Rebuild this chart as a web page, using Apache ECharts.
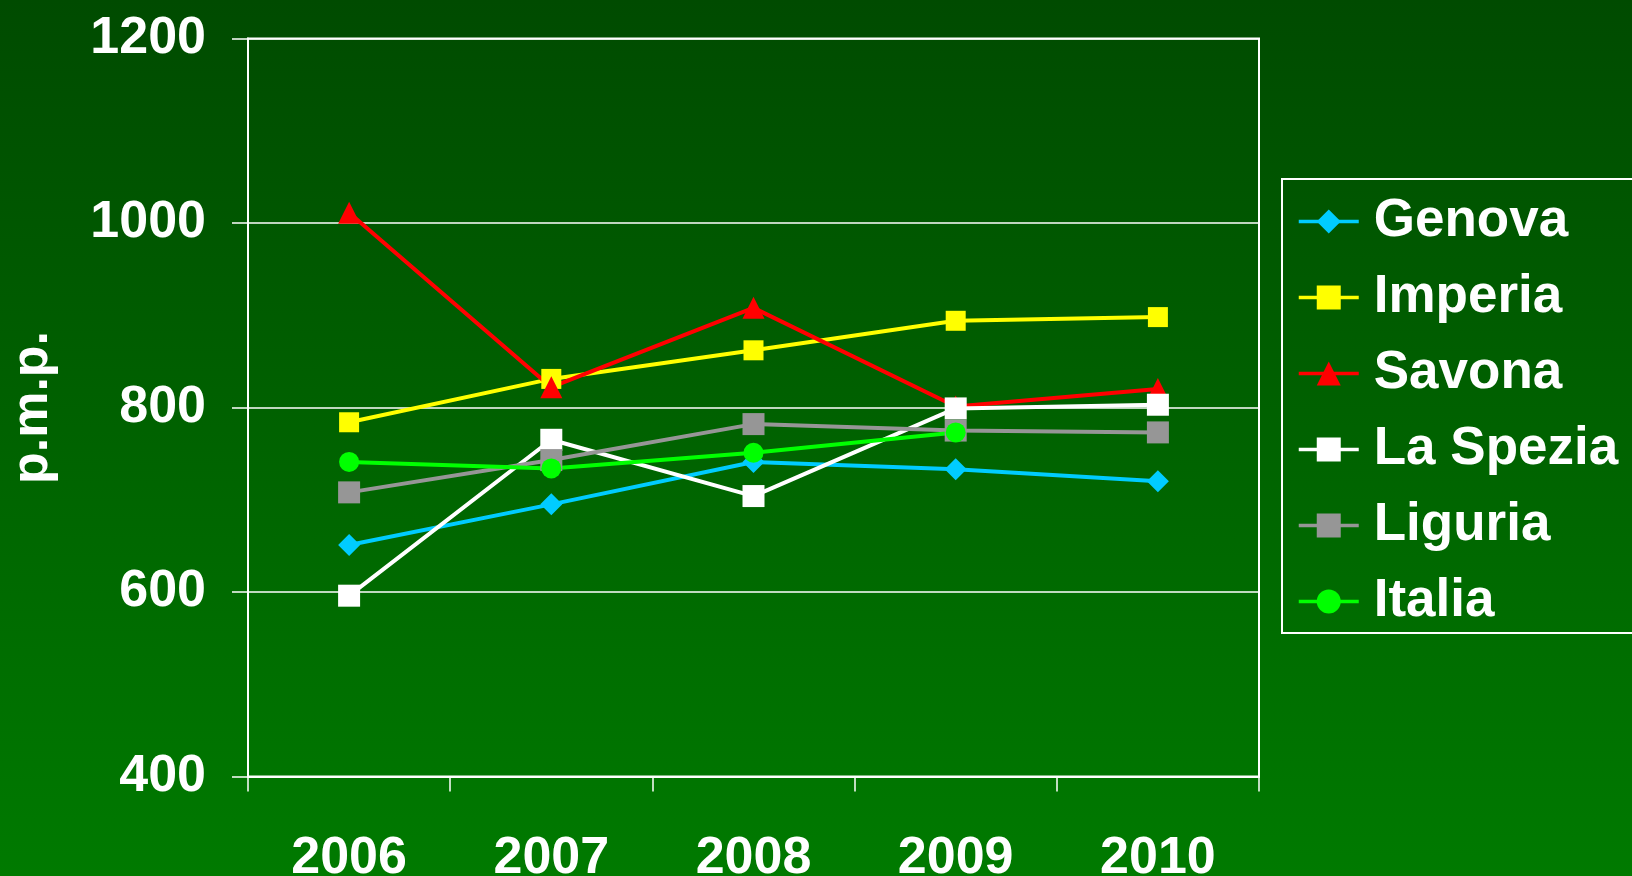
<!DOCTYPE html>
<html>
<head>
<meta charset="utf-8">
<script src="https://cdn.jsdelivr.net/npm/echarts@6/dist/echarts.min.js"></script>
<style>
  html, body { margin: 0; padding: 0; }
  #chart { width: 1632px; height: 876px; }
</style>
</head>
<body>
<div id="chart"></div>
<script>
const YEARS = ['2006', '2007', '2008', '2009', '2010'];
const GENOVA = [651, 695, 741, 733, 720];
const IMPERIA = [784, 831, 862, 894, 898];
const SAVONA = [1011, 822, 908, 801, 820];
const LA_SPEZIA = [596, 765, 704, 799, 803];
const LIGURIA = [708, 743, 782, 775, 773];
const ITALIA = [741, 734, 751, 773, null];

const FONT = 'Liberation Sans, Arial, sans-serif';

const chart = echarts.init(document.getElementById('chart'));

// one line series per place
const makeLine = (name, data, color, symbol, size) => ({
    name: name,
    type: 'line',
    data: data,
    symbol: symbol,
    symbolSize: size,
    showAllSymbol: true,
    itemStyle: { color: color, borderWidth: 0 },
    lineStyle: { color: color, width: 4 },
    silent: true,
    animation: false
});

chart.setOption({
    backgroundColor: {
        type: 'linear', x: 0, y: 0, x2: 0, y2: 1,
        colorStops: [
            { offset: 0, color: '#004b00' },
            { offset: 1, color: '#007a00' }
        ]
    },
    textStyle: { fontFamily: FONT },
    grid: {
        left: 248,
        right: 373,
        top: 38.5,
        bottom: 99.5,
        outerBoundsMode: 'none',
        show: true,
        borderColor: '#ffffff',
        borderWidth: 2,
        backgroundColor: 'transparent'
    },
    legend: {
        orient: 'vertical',
        left: 1282,
        top: 179,
        padding: [16, 24, 5, 15],
        itemGap: 23,
        itemWidth: 60,
        itemHeight: 30,
        lineStyle: { width: 3.5 },
        borderColor: '#ffffff',
        borderWidth: 2,
        textStyle: {
            color: '#ffffff',
            fontSize: 53,
            fontWeight: 'bold',
            fontFamily: FONT,
            padding: [0, 0, 0, 10]
        },
        data: ['Genova', 'Imperia', 'Savona', 'La Spezia', 'Liguria', 'Italia']
    },
    xAxis: {
        type: 'category',
        data: YEARS,
        boundaryGap: true,
        axisLine: { show: true, lineStyle: { color: '#ffffff', width: 2 } },
        axisTick: { show: true, length: 15, lineStyle: { color: '#ffffff', width: 1.5 } },
        axisLabel: {
            color: '#ffffff',
            fontSize: 52,
            fontWeight: 'bold',
            fontFamily: FONT,
            margin: 56
        },
        splitLine: { show: false }
    },
    yAxis: {
        type: 'value',
        min: 400,
        max: 1200,
        interval: 200,
        name: 'p.m.p.',
        nameLocation: 'middle',
        nameGap: 189,
        nameTextStyle: {
            color: '#ffffff',
            fontSize: 52,
            fontWeight: 'bold',
            fontFamily: FONT
        },
        axisLine: { show: true, lineStyle: { color: '#ffffff', width: 2 } },
        axisTick: { show: true, length: 16, lineStyle: { color: '#ffffff', width: 1.5 } },
        axisLabel: {
            color: '#ffffff',
            fontSize: 52,
            fontWeight: 'bold',
            fontFamily: FONT,
            margin: 42,
            formatter: (v) => String(v)
        },
        splitLine: { show: true, lineStyle: { color: '#ffffff', width: 1.5 } }
    },
    series: [
        makeLine('Genova', GENOVA, '#00ccff', 'diamond', 22),
        makeLine('Imperia', IMPERIA, '#ffff00', 'rect', 20),
        makeLine('Savona', SAVONA, '#ff0000', 'triangle', 22),
        makeLine('La Spezia', LA_SPEZIA, '#ffffff', 'rect', 22),
        makeLine('Liguria', LIGURIA, '#969696', 'rect', 22),
        makeLine('Italia', ITALIA, '#00ff00', 'circle', 20)
    ]
});
</script>
</body>
</html>
